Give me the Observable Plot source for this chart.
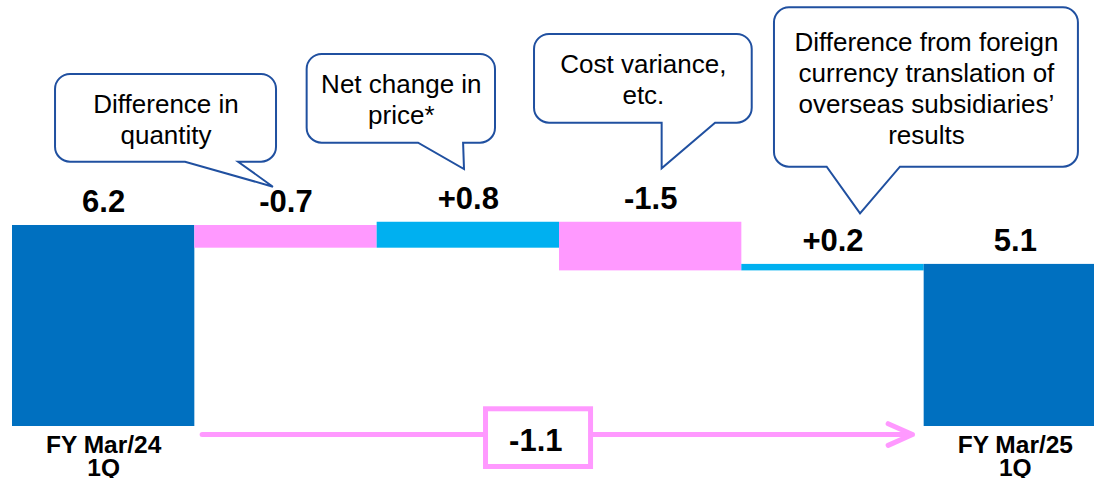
<!DOCTYPE html>
<html><head><meta charset="utf-8">
<script src="https://cdn.jsdelivr.net/npm/d3@7"></script>
<script src="https://cdn.jsdelivr.net/npm/@observablehq/plot@0.6"></script>
<style>
html,body{margin:0;padding:0;background:#fff;overflow:hidden;}
#chart svg{display:block;overflow:hidden !important;}
</style></head><body><div id="chart"></div>
<script>
// ---- data ----
const startValue = 6.2;               // FY Mar/24 1Q
const changes = [-0.7, 0.8, -1.5, 0.2];
const endValue = 5.1;                 // FY Mar/25 1Q (label)
const totalChange = -1.1;
const tickLabels = ["FY Mar/24\n1Q", "", "", "", "", "FY Mar/25\n1Q"];
const calloutTexts = [
  "Difference in\nquantity",
  "Net change in\nprice*",
  "Cost variance,\netc.",
  "Difference from foreign\ncurrency translation of\noverseas subsidiaries’\nresults"
];

// ---- styles / layout ----
const COLORS = {total: "#0070C0", neg: "#FF99FF", pos: "#00B0F0"};
const PINK = "#FF99FF";
const CALLOUT_STROKE = "#2050A0";
const FONT = "Liberation Sans, Arial, Helvetica, sans-serif";
// callout geometry in scale units (x: step index, y: value)
const calloutLayout = [
  {x1: -0.264, x2: 0.948, y1: 10.857, y2: 8.152, b1: 0.449, b2: 0.740, tx: 0.931, ty: 7.381},
  {x1: 1.116, x2: 2.149, y1: 11.474, y2: 8.738, b1: 1.727, b2: 1.974, tx: 1.979, ty: 7.927},
  {x1: 2.363, x2: 3.557, y1: 12.091, y2: 9.355, b1: 3.063, b2: 3.356, tx: 3.063, ty: 7.949},
  {x1: 3.679, x2: 5.346, y1: 12.915, y2: 7.998, b1: 3.968, b2: 4.370, tx: 4.151, ty: 6.561}
];

// ---- waterfall table ----
const bars = [];
let level = startValue;
bars.push({i: 0, y1: 0, y2: startValue, kind: "total", label: startValue.toFixed(1)});
changes.forEach((c, k) => {
  const next = Math.round((level + c) * 100) / 100;
  bars.push({i: k + 1, y1: level, y2: next, kind: c < 0 ? "neg" : "pos", label: (c > 0 ? "+" : "") + c.toFixed(1)});
  level = next;
});
bars.push({i: tickLabels.length - 1, y1: 0, y2: level, kind: "total", label: endValue.toFixed(1)});

const ticks = tickLabels.map((t, i) => ({i, t})).filter(d => d.t);
const callouts = calloutTexts.map((t, k) => ({...calloutLayout[k], text: t}));

function calloutShapes(index, scales) {
  const x = scales.x, y = scales.y;
  const g = d3.create("svg:g");
  for (const c of callouts) {
    const L = x(c.x1), R = x(c.x2), T = y(c.y1), B = y(c.y2);
    const b1 = x(c.b1), b2 = x(c.b2), tx = x(c.tx), ty = y(c.ty);
    const r = 15;
    const p = d3.path();
    p.moveTo(L + r, T); p.lineTo(R - r, T); p.arcTo(R, T, R, T + r, r);
    p.lineTo(R, B - r); p.arcTo(R, B, R - r, B, r);
    p.lineTo(b2, B); p.lineTo(tx, ty); p.lineTo(b1, B);
    p.lineTo(L + r, B); p.arcTo(L, B, L, B - r, r);
    p.lineTo(L, T + r); p.arcTo(L, T, L + r, T, r); p.closePath();
    g.append("path").attr("d", p.toString()).attr("fill", "white")
      .attr("stroke", CALLOUT_STROKE).attr("stroke-width", 2);
  }
  return g.node();
}

const plot = Plot.plot({
  width: 1094, height: 478,
  marginLeft: 12, marginRight: -12, marginTop: 0, marginBottom: 0,
  x: {domain: [-0.5, 5.5], axis: null},
  y: {domain: [-1.604, 13.14], axis: null},
  color: {type: "identity"},
  style: {fontFamily: FONT, background: "white"},
  marks: [
    Plot.rect(bars, {x1: d => d.i - 0.5, x2: d => d.i + 0.5, y1: "y1", y2: "y2", fill: d => COLORS[d.kind]}),
    Plot.text(bars, {x: "i", y: d => Math.max(d.y1, d.y2), text: "label", lineAnchor: "bottom", dy: -13,
      fontSize: 31, fontWeight: "bold", fill: "black", fontFamily: FONT}),
    Plot.text(ticks, {x: "i", y: 0, text: "t", lineAnchor: "top", dy: 10, lineHeight: 0.94,
      fontSize: 24.5, fontWeight: "bold", fill: "black", fontFamily: FONT}),
    calloutShapes,
    Plot.text(callouts, {x: d => (d.x1 + d.x2) / 2, y: d => (d.y1 + d.y2) / 2, text: "text",
      lineAnchor: "middle", lineHeight: 1.2, fontSize: 26, fill: "black", fontFamily: FONT}),
    Plot.arrow([totalChange], {x1: 0.54, x2: 4.436, y1: -0.247, y2: -0.247, stroke: PINK, strokeWidth: 5,
      headAngle: 48, headLength: 8}),
    Plot.rect([totalChange], {x1: 2.097, x2: 2.673, y1: 0.531, y2: -1.249, fill: "white", stroke: PINK, strokeWidth: 5}),
    Plot.text([totalChange], {x: 2.37, y: -0.447, text: d => d.toFixed(1), lineAnchor: "middle",
      fontSize: 31, fontWeight: "bold", fill: "black", fontFamily: FONT})
  ]
});
document.getElementById("chart").appendChild(plot);
</script></body></html>
